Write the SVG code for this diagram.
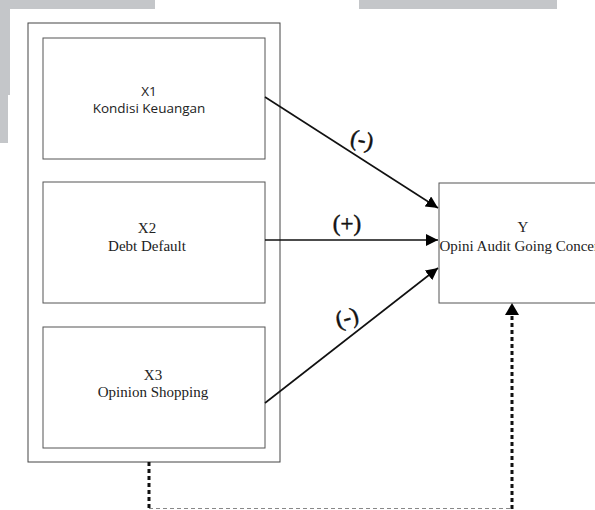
<svg xmlns="http://www.w3.org/2000/svg" width="595" height="510" viewBox="0 0 595 510">
<defs>
<style>
.box{fill:#fff;stroke:#555;stroke-width:1}
.sans{font-family:"Open Sans","Noto Sans","Liberation Sans",sans-serif;font-size:13.5px;fill:#222;text-anchor:middle}
.serif{font-family:"Liberation Serif","DejaVu Serif",serif;font-size:15px;fill:#222;text-anchor:middle}
.lbl{font-family:"Liberation Serif","DejaVu Serif",serif;font-size:23px;fill:#111;stroke:#111;stroke-width:0.5;text-anchor:middle}
.edge{stroke:#111;stroke-width:1.6;fill:none}
.dot{stroke:#111;stroke-width:3;stroke-dasharray:4 3;fill:none}
</style>
<marker id="ah" viewBox="0 0 12 12" refX="12" refY="6" markerWidth="12" markerHeight="12" markerUnits="userSpaceOnUse" orient="auto">
<path d="M0,0 L12,6 L0,12 Z" fill="#000"/>
</marker>
</defs>
<rect width="595" height="510" fill="#fff"/>
<g id="bg">
<path d="M0,0 H155 V9 H10 V95 H8 V143 H0 Z" fill="#c4c6c9"/>
<rect x="359" y="0" width="198" height="9" fill="#c4c6c9"/>
</g>
<g id="outer"><rect x="28" y="23" width="252" height="439" fill="#fff" stroke="#444" stroke-width="1"/></g>
<g id="x1"><rect class="box" x="43" y="38" width="222" height="121"/>
<text class="sans" x="149" y="96">X1</text><text class="sans" x="149" y="113">Kondisi Keuangan</text></g>
<g id="x2"><rect class="box" x="43" y="182" width="222" height="121"/>
<text class="serif" x="147" y="233">X2</text><text class="serif" x="147" y="251">Debt Default</text></g>
<g id="x3"><rect class="box" x="43" y="327" width="222" height="121"/>
<text class="serif" x="153" y="380">X3</text><text class="serif" x="153" y="397">Opinion Shopping</text></g>
<g id="y"><rect class="box" x="439" y="183" width="170" height="120"/>
<text class="serif" x="523" y="232">Y</text><text class="serif" x="523" y="251">Opini Audit Going Concern</text></g>
<g id="connectors">
<line class="edge" x1="265" y1="97" x2="438" y2="208" marker-end="url(#ah)"/>
<line class="edge" x1="265" y1="240" x2="438" y2="240" marker-end="url(#ah)"/>
<line class="edge" x1="265" y1="403" x2="438" y2="268" marker-end="url(#ah)"/>
<path class="dot" d="M149,462 V509"/>
<path d="M149,508.5 H512" stroke="#888" stroke-width="1" stroke-dasharray="4 3" fill="none"/>
<path class="dot" d="M512,509 V314"/>
<path d="M512,303 L519,315 L505,315 Z" fill="#000"/>
<text class="lbl" x="362" y="147" transform="rotate(12 362 140)">(-)</text>
<text class="lbl" x="347" y="231">(+)</text>
<text class="lbl" x="347" y="325" transform="rotate(-15 347 318)">(-)</text>
</g>
</svg>
